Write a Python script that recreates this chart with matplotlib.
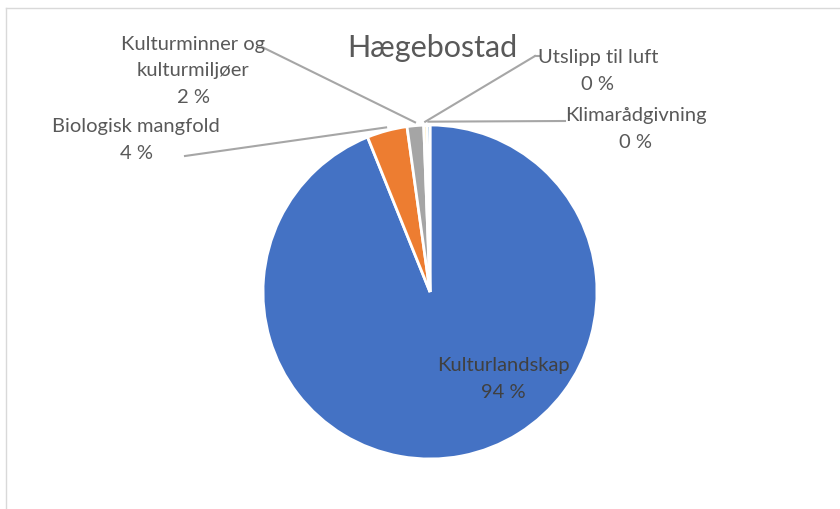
import numpy as np
import matplotlib.pyplot as plt
from matplotlib.lines import Line2D

# Slice data
categories = ["Kulturlandskap", "Biologisk mangfold", "Kulturminner og\nkulturmiljøer",
              "Utslipp til luft", "Klimarådgivning"]
values = [93.9, 3.9, 1.6, 0.3, 0.3]
colors = ["#4472C4", "#ED7D31", "#A5A5A5", "#FFC000", "#5B9BD5"]
title = "Hægebostad"

plt.rcParams['font.family'] = ['Lato', 'DejaVu Sans']

W, H = 840, 510
fig = plt.figure(figsize=(8.4, 5.1), dpi=100)

# pie placement in pixels
cx, cy, r = 430, 293, 167
ax = fig.add_axes([(cx - r) / W, (H - cy - r) / H, 2 * r / W, 2 * r / H])

wedges, _ = ax.pie(values, colors=colors, startangle=90, counterclock=False,
                   radius=1, wedgeprops=dict(edgecolor="white", linewidth=2))
ax.set_xlim(-1, 1)
ax.set_ylim(-1, 1)
ax.set_aspect("equal")
ax.axis("off")


def px(x, y):
    # pixel position -> data coords of the pie axes
    return (x - cx) / r, (cy - y) / r


def edge_point(w, k=1.02):
    a = np.deg2rad((w.theta1 + w.theta2) / 2)
    return k * np.cos(a), k * np.sin(a)


txt_color = "#595959"
line_color = "#A6A6A6"
fs = 14.5
ls = 1.65
labels = [f"{c}\n{round(v)} %" for c, v in zip(categories, values)]

# inside label for the big slice
x, y = px(503, 379)
ax.text(x, y, labels[0], ha="center", va="center", fontsize=fs,
        color="#404040", linespacing=ls)

# outside labels: label centre and where the leader line meets the text
label_pos = [None, (136, 140), (193, 71), (598, 71), (636, 129)]
line_start = [None, (185, 157), (262, 48), (535, 57), (565, 122)]

for i in range(1, len(values)):
    lx, ly = px(*label_pos[i])
    ax.text(lx, ly, labels[i], ha="center", va="center", fontsize=fs,
            color=txt_color, linespacing=ls, clip_on=False)
    sx, sy = px(*line_start[i])
    ex, ey = edge_point(wedges[i])
    ax.plot([sx, ex], [sy, ey], color=line_color, lw=1.5, clip_on=False)

# short horizontal tick into the "Utslipp" label
sx, sy = px(*line_start[3])
tx, ty = px(540, 57)
ax.plot([sx, tx], [sy, ty], color=line_color, lw=1.5, clip_on=False)

fig.text(432 / W, 1 - 48 / H, title, ha="center", va="center",
         fontsize=22, color=txt_color)

# chart border (top and left visible)
fig.add_artist(Line2D([6 / W, 1], [1 - 9 / H, 1 - 9 / H], color="#D9D9D9", lw=1))
fig.add_artist(Line2D([6 / W, 6 / W], [0, 1 - 9 / H], color="#D9D9D9", lw=1))

fig.savefig("out.png", dpi=100, facecolor="white")
